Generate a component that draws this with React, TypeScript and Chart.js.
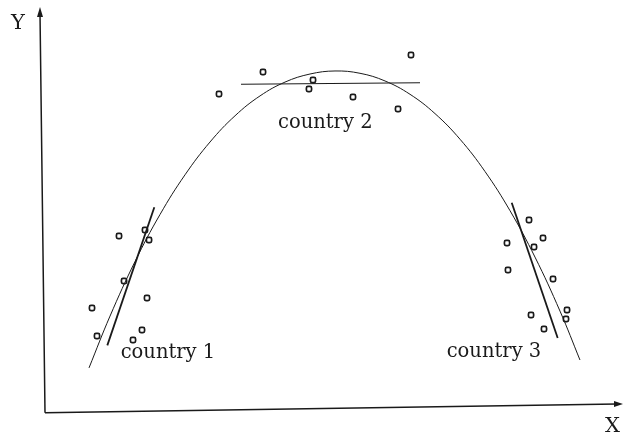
import React, { useEffect, useRef } from "react";
import { Chart, registerables } from "chart.js";

Chart.register(...registerables);

// Fitted curve
const curveX = [8.16, 11.81, 16.15, 20.49, 24.83, 29.17, 33.51, 37.85, 42.19, 46.53, 50.87, 55.21, 59.55, 63.89, 68.23, 72.57, 76.91, 81.25, 85.59, 89.93, 93.4];
const curveY = [10.92, 23.74, 37.25, 48.89, 58.71, 66.83, 73.32, 78.24, 81.66, 83.66, 84.41, 83.84, 81.94, 78.64, 73.86, 67.52, 59.53, 49.83, 38.34, 24.98, 12.87];

// Observations per country
const country1X = [13.37, 17.88, 18.58, 14.24, 18.23, 8.68, 9.55, 17.36, 15.8];
const country1Y = [43.56, 45.05, 42.57, 32.43, 28.22, 25.74, 18.81, 20.3, 17.82];
const country2X = [30.73, 38.37, 47.05, 46.35, 53.99, 61.81, 64.06];
const country2Y = [78.71, 84.16, 82.18, 79.95, 77.97, 75.0, 88.37];
const country3X = [84.55, 80.73, 86.98, 85.42, 80.9, 88.72, 91.15, 90.97, 84.9, 87.15];
const country3Y = [47.52, 41.83, 43.07, 40.84, 35.15, 32.92, 25.25, 23.02, 24.01, 20.54];

// Local (country) regression lines: [start, end]
const line1X = [11.34, 19.5];
const line1Y = [16.49, 50.66];
const line2X = [34.55, 65.63];
const line2Y = [81.11, 81.51];
const line3X = [81.55, 89.53];
const line3Y = [51.81, 18.32];

// Labels
const labelTexts = ["country 1", "country 2", "country 3"];
const labelX = [13.66, 40.97, 70.26];
const labelY = [13.37, 70.42, 13.61];
const axisLabelX = "X";
const axisLabelY = "Y";

const toPts = (xs: number[], ys: number[]) => xs.map((x, i) => ({ x, y: ys[i] }));

const INK = "#1a1a1a";
const SERIF = "'DejaVu Serif', serif";

const decorPlugin = {
  id: "decor",
  afterDatasetsDraw(chart: any) {
    const { ctx, chartArea, scales } = chart;
    const { left, right, top, bottom } = chartArea;
    ctx.save();
    ctx.strokeStyle = INK;
    ctx.fillStyle = INK;
    ctx.lineWidth = 1.5;
    // axes (slightly skewed like the scanned original)
    const ox = left + 3, oy = bottom + 0.7;
    const yTipX = left - 2, yTipY = top - 1;
    const xTipX = right + 5, xTipY = bottom - 8;
    ctx.beginPath();
    ctx.moveTo(ox, oy);
    ctx.lineTo(yTipX, yTipY + 6);
    ctx.moveTo(ox, oy);
    ctx.lineTo(xTipX - 6, xTipY);
    ctx.stroke();
    // arrowheads
    ctx.beginPath();
    ctx.moveTo(yTipX, yTipY);
    ctx.lineTo(yTipX - 3, yTipY + 10);
    ctx.lineTo(yTipX + 3, yTipY + 10);
    ctx.closePath();
    ctx.fill();
    ctx.beginPath();
    ctx.moveTo(xTipX, xTipY);
    ctx.lineTo(xTipX - 9, xTipY - 3);
    ctx.lineTo(xTipX - 9, xTipY + 3);
    ctx.closePath();
    ctx.fill();

    // axis labels
    ctx.font = `21px ${SERIF}`;
    ctx.textBaseline = "alphabetic";
    ctx.textAlign = "left";
    ctx.fillText(axisLabelY, left - 31, top + 21);
    ctx.fillText(axisLabelX, right - 13, bottom + 19.5);

    // country labels
    ctx.font = `19.5px ${SERIF}`;
    labelTexts.forEach((t, i) => {
      const px = scales.x.getPixelForValue(labelX[i]);
      const py = scales.y.getPixelForValue(labelY[i]);
      ctx.fillText(t, px, py);
    });
    ctx.restore();
  },
};

export default function App() {
  const ref = useRef<HTMLCanvasElement | null>(null);
  useEffect(() => {
    if (!ref.current) return;
    const pointDs = (xs: number[], ys: number[]) => ({
      data: toPts(xs, ys),
      showLine: false,
      pointStyle: "rectRounded" as const,
      pointRadius: 3,
      pointBorderWidth: 1.7,
      pointBorderColor: INK,
      pointBackgroundColor: "#ffffff",
    });
    const lineDs = (xs: number[], ys: number[], w: number) => ({
      data: toPts(xs, ys),
      showLine: true,
      borderColor: INK,
      borderWidth: w,
      pointRadius: 0,
      tension: 0,
    });
    const chart = new Chart(ref.current, {
      type: "scatter",
      data: {
        datasets: [
          {
            data: toPts(curveX, curveY),
            showLine: true,
            borderColor: INK,
            borderWidth: 1,
            pointRadius: 0,
            tension: 0.4,
          } as any,
          lineDs(line1X, line1Y, 1.8),
          lineDs(line2X, line2Y, 1.1),
          lineDs(line3X, line3Y, 1.8),
          pointDs(country1X, country1Y),
          pointDs(country2X, country2Y),
          pointDs(country3X, country3Y),
        ],
      },
      options: {
        responsive: false,
        animation: false,
        layout: { padding: { left: 42, right: 6, top: 8, bottom: 21 } },
        plugins: { legend: { display: false }, tooltip: { enabled: false } },
        scales: {
          x: { type: "linear", min: 0, max: 100, display: false },
          y: { type: "linear", min: 0, max: 100, display: false },
        },
      },
      plugins: [decorPlugin],
    });
    return () => chart.destroy();
  }, []);
  return (
    <div style={{ position: "fixed", left: 0, top: 0, width: 624, height: 433, background: "#fff" }}>
      <canvas ref={ref} width={624} height={433} />
    </div>
  );
}
